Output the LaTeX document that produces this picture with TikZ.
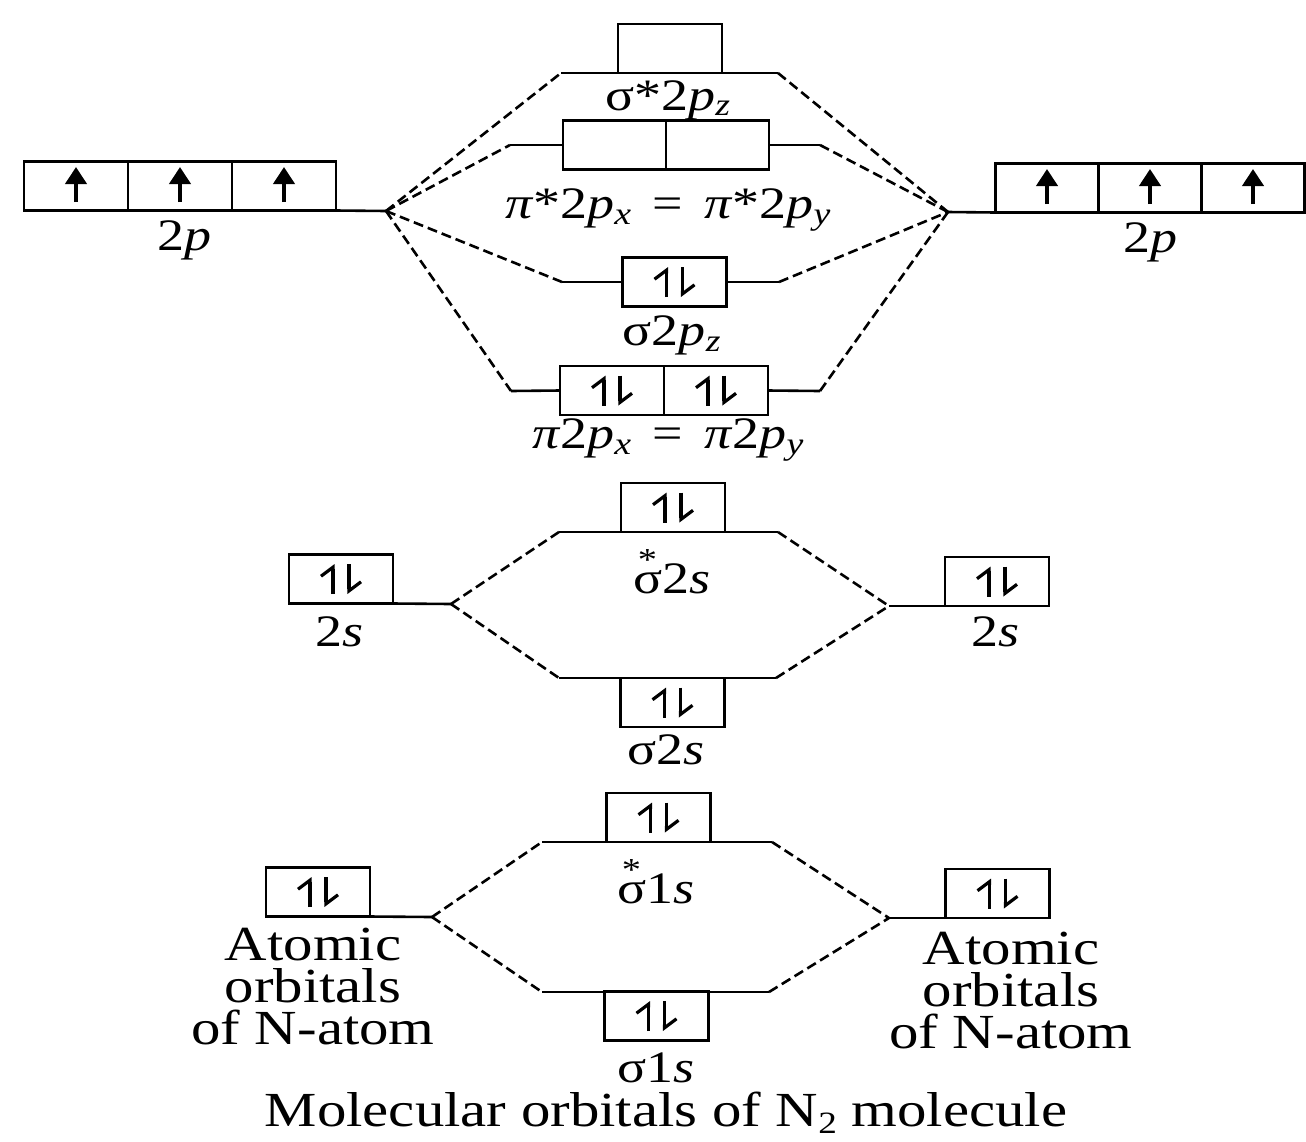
\documentclass[tikz,border=0pt]{standalone}
\usepackage{fontspec}
\setmainfont{Liberation Serif}[FakeStretch=1.2]
\usetikzlibrary{arrows.meta,calc}
\newcommand{\subi}[1]{\textsubscript{\textit{#1}}}
\newcommand{\starred}[1]{\makebox[0pt][l]{\raisebox{0.52em}{\kern0.1em\fontsize{32}{32}\selectfont *}}#1}
\begin{document}
\begin{tikzpicture}[x=1pt,y=-1pt,
 orb/.style={draw, line width=2.6pt, minimum width=104pt, minimum height=49pt, inner sep=0pt, outer sep=0pt},
 lvl/.style={line width=2.6pt},
 corr/.style={line width=2.6pt, dash pattern=on 10pt off 5pt},
 lab/.style={font=\fontsize{45}{45}\selectfont, inner sep=0pt},
 big/.style={font=\fontsize{49}{42}\selectfont, align=center, inner sep=0pt},
 ttl/.style={font=\fontsize{49}{49}\selectfont, inner sep=0pt},
 uparr/.style={line width=4pt, -{Triangle[length=17pt,width=21pt]}},
 harp/.style={line width=3.4pt, -{Straight Barb[harpoon,length=9pt,width=24pt,line width=3.2pt]}},
]
\useasboundingbox (0,0) rectangle (1306,1141);
\newcommand{\pair}[1]{%
  \draw[harp] ($(#1.center)+(-8,15)$) -- ($(#1.center)+(-8,-15)$);
  \draw[harp] ($(#1.center)+(8,-15)$) -- ($(#1.center)+(8,15)$);}
\newcommand{\single}[1]{%
  \draw[uparr] ($(#1.center)+(0,16)$) -- ($(#1.center)+(0,-19)$);}

% ---------- 2p atomic ----------
\node[orb] (a1) at (76,186) {};
\node[orb] (a2) at (180,186) {};
\node[orb] (a3) at (284,186) {};
\node[orb, minimum width=103pt] (b1) at (1047,188) {};
\node[orb, minimum width=103pt] (b2) at (1150,188) {};
\node[orb, minimum width=103pt] (b3) at (1253,188) {};
\foreach \n in {a1,a2,a3,b1,b2,b3} {\single{\n}}
\node[lab] (l2pL) at (184,240) {2\textit{p}};
\node[lab] (l2pR) at (1150,242) {2\textit{p}};
\coordinate (VL) at (386,211);
\coordinate (VR) at (948,212);
\draw[lvl] (a3.south east) -- (VL);
\draw[lvl] (VR) -- (b1.south west);

% sigma* 2pz
\node[orb] (ss2p) at (670,48.5) {};
\coordinate (ss2pL) at (561,73);
\coordinate (ss2pR) at (778,73);
\draw[lvl] (ss2pL) -- (ss2pR);
\draw[corr] (VL) -- (ss2pL);
\draw[corr] (ss2pR) -- (VR);
\node[lab] (lss2p) at (668,100) {σ*2\textit{p}\subi{z}};

% pi* 2p
\node[orb, minimum width=103pt] (ps1) at (614.5,145) {};
\node[orb, minimum width=103pt] (ps2) at (717.5,145) {};
\coordinate (psL) at (510,145);
\coordinate (psR) at (820,145);
\draw[lvl] (psL) -- (ps1.west);
\draw[lvl] (ps2.east) -- (psR);
\draw[corr] (VL) -- (psL);
\draw[corr] (psR) -- (VR);
\node[lab] (lps) at (668,210) {\textit{π}*2\textit{p}\subi{x}\ \,=\ \,\textit{π}*2\textit{p}\subi{y}};

% sigma 2pz
\node[orb] (s2p) at (674.5,282) {};
\pair{s2p}
\coordinate (s2pL) at (562,282);
\coordinate (s2pR) at (779,282);
\draw[lvl] (s2pL) -- (s2p.west);
\draw[lvl] (s2p.east) -- (s2pR);
\draw[corr] (VL) -- (s2pL);
\draw[corr] (s2pR) -- (VR);
\node[lab] (ls2p) at (672,335) {σ2\textit{p}\subi{z}};

% pi 2p
\node[orb] (p1) at (612,390.5) {};
\node[orb] (p2) at (716,390.5) {};
\pair{p1}\pair{p2}
\coordinate (pL) at (511,391);
\coordinate (pR) at (820,391);
\draw[lvl] (pL) -- (p1.west);
\draw[lvl] (p2.east) -- (pR);
\draw[corr] (VL) -- (pL);
\draw[corr] (pR) -- (VR);
\node[lab] (lp) at (668,440) {\textit{π}2\textit{p}\subi{x}\ \,=\ \,\textit{π}2\textit{p}\subi{y}};

% ---------- 2s ----------
\node[orb] (L2s) at (341,579) {};
\node[orb] (R2s) at (997,581.5) {};
\pair{L2s}\pair{R2s}
\node[lab] (l2sL) at (340,632) {2\textit{s}};
\node[lab] (l2sR) at (995,632) {2\textit{s}};
\coordinate (VL2) at (451,604);
\coordinate (VR2) at (889,606);
\draw[lvl] (L2s.south east) -- (VL2);
\draw[lvl] (VR2) -- (R2s.south west);

\node[orb] (ss2s) at (673,507.5) {};
\pair{ss2s}
\coordinate (ss2sL) at (559,532);
\coordinate (ss2sR) at (778,532);
\draw[lvl] (ss2sL) -- (ss2sR);
\draw[corr] (VL2) -- (ss2sL);
\draw[corr] (ss2sR) -- (VR2);
\node[lab] (lss2s) at (672,572) {\starred{σ}2\textit{s}};

\node[orb] (s2s) at (672.5,702.5) {};
\pair{s2s}
\coordinate (s2sL) at (559,678);
\coordinate (s2sR) at (776,678);
\draw[lvl] (s2sL) -- (s2sR);
\draw[corr] (VL2) -- (s2sL);
\draw[corr] (s2sR) -- (VR2);
\node[lab] (ls2s) at (666,750) {σ2\textit{s}};

% ---------- 1s ----------
\node[orb] (L1s) at (318,892) {};
\node[orb] (R1s) at (997.5,893.5) {};
\pair{L1s}\pair{R1s}
\coordinate (VL1) at (432,917);
\coordinate (VR1) at (889,918);
\draw[lvl] (L1s.south east) -- (VL1);
\draw[lvl] (VR1) -- (R1s.south west);

\node[orb] (ss1s) at (658.5,817.5) {};
\pair{ss1s}
\coordinate (ss1sL) at (542,842);
\coordinate (ss1sR) at (772,842);
\draw[lvl] (ss1sL) -- (ss1sR);
\draw[corr] (VL1) -- (ss1sL);
\draw[corr] (ss1sR) -- (VR1);
\node[lab] (lss1s) at (656,882) {\starred{σ}1\textit{s}};

\node[orb] (s1s) at (656.5,1016) {};
\pair{s1s}
\coordinate (s1sL) at (542,992);
\coordinate (s1sR) at (769,992);
\draw[lvl] (s1sL) -- (s1sR);
\draw[corr] (VL1) -- (s1sL);
\draw[corr] (s1sR) -- (VR1);
\node[lab] (ls1s) at (656,1068) {σ1\textit{s}};

\node[big] (atL) at (313,987) {Atomic\\orbitals\\of N-atom};
\node[big] (atR) at (1011,991) {Atomic\\orbitals\\of N-atom};
\node[ttl, anchor=base] (title) at (666,1126) {Molecular orbitals of N\raisebox{-0.16em}{\fontsize{31}{31}\selectfont 2} molecule};
\end{tikzpicture}
\end{document}
